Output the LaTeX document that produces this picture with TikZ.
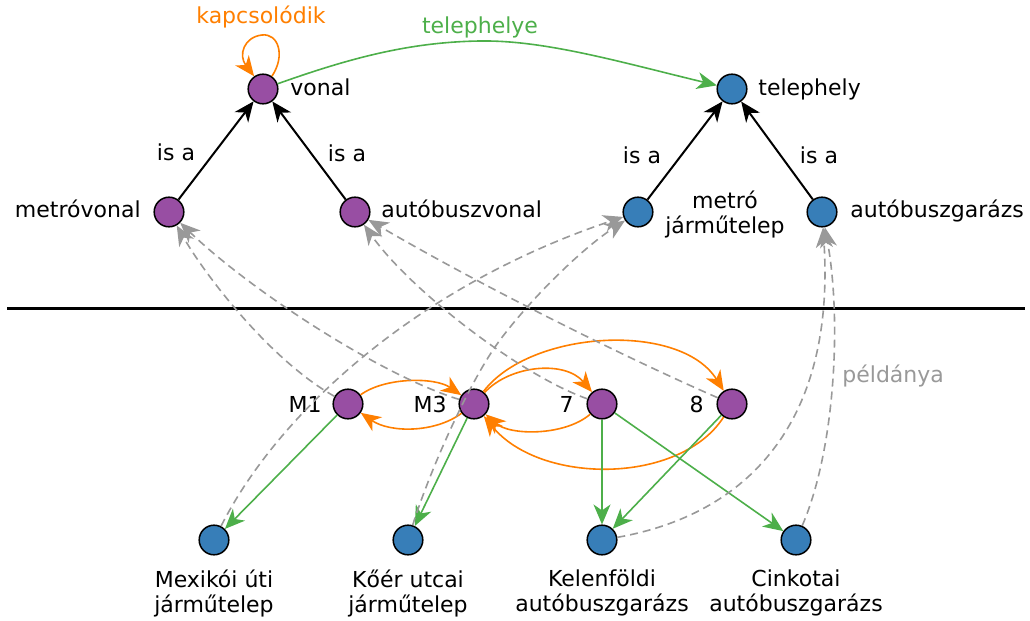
\documentclass[tikz,border=0pt]{standalone}
\usepackage{fontspec}
\setmainfont{DejaVu Sans}
\usetikzlibrary{arrows.meta}
\definecolor{cpurple}{HTML}{984EA3}
\definecolor{cblue}{HTML}{377EB8}
\definecolor{corange}{HTML}{FF7F00}
\definecolor{cgreen}{HTML}{4DAF4A}
\definecolor{cgray}{HTML}{999999}
\begin{document}
\begin{tikzpicture}[x=0.5pt,y=-0.5pt,
  font=\fontsize{11pt}{12.5pt}\selectfont,
  vert/.style={circle,draw=black,line width=0.75pt,minimum size=14.8pt,inner sep=0pt},
  cls/.style={vert,fill=cpurple},
  site/.style={vert,fill=cblue},
  txt/.style={inner sep=0pt},
  headed/.style={-{Stealth[length=10pt,width=8.5pt,inset=3pt]}},
  isa/.style={headed,line width=1pt,black},
  link/.style={headed,line width=0.8pt,corange},
  loc/.style={headed,line width=0.8pt,cgreen},
  inst/.style={headed,line width=0.8pt,cgray,dash pattern=on 4pt off 2.5pt},
]
\useasboundingbox (0,0) rectangle (1030,621);

% class level
\node[cls]  (vonal)   at (263,89)  {};
\node[site] (telep)   at (732,89)  {};
\node[cls]  (metrov)  at (169,212) {};
\node[cls]  (buszv)   at (355,212) {};
\node[site] (metrojt) at (638,212) {};
\node[site] (garazs)  at (822,212) {};

% instance level
\node[cls]  (M1)    at (348,404) {};
\node[cls]  (M3)    at (474,404) {};
\node[cls]  (n7)    at (602,404) {};
\node[cls]  (n8)    at (732,404) {};
\node[site] (mex)   at (214,540) {};
\node[site] (koer)  at (408,540) {};
\node[site] (kelen) at (602,540) {};
\node[site] (cink)  at (796,540) {};

% labels
\node[txt,anchor=base west] (lvonal) at (290,96) {vonal};
\node[txt,anchor=base west] (ltelep) at (758,96) {telephely};
\node[txt,anchor=base east] (lmetrov) at (141,217) {metróvonal};
\node[txt,anchor=base west] (lbuszv) at (381,217) {autóbuszvonal};
\node[txt,align=center] (lmetrojt) at (725,214) {metró\\járműtelep};
\node[txt,anchor=base west] (lgarazs) at (850,217) {autóbuszgarázs};
\node[txt,anchor=base east] (lM1) at (322,412) {M1};
\node[txt,anchor=base east] (lM3) at (447,412) {M3};
\node[txt,anchor=base east] (l7) at (574,412) {7};
\node[txt,anchor=base east] (l8) at (704,412) {8};
\node[txt,align=center] (lmex) at (214,593) {Mexikói úti\\járműtelep};
\node[txt,align=center] (lkoer) at (408,593) {Kőér utcai\\járműtelep};
\node[txt,align=center] (lkelen) at (602,593) {Kelenföldi\\autóbuszgarázs};
\node[txt,align=center] (lcink) at (796,593) {Cinkotai\\autóbuszgarázs};

% class / instance separator
\draw[line width=1.5pt] (7,308) -- (1025,308);

% is-a edges
\draw[isa] (metrov) -- (vonal);
\draw[isa] (buszv) -- (vonal);
\draw[isa] (metrojt) -- (telep);
\draw[isa] (garazs) -- (telep);
\node[txt,anchor=base] (isa1) at (176,160) {is a};
\node[txt,anchor=base] (isa2) at (347,162) {is a};
\node[txt,anchor=base] (isa3) at (642,163) {is a};
\node[txt,anchor=base] (isa4) at (819,163) {is a};

% relations between classes
\draw[link] (vonal.55) .. controls (286,55) and (278,33) .. (262,35)
  .. controls (244,37) and (238,55) .. (vonal.125);
\node[txt,anchor=base,text=corange] (lkapcs) at (261,24) {kapcsolódik};
\draw[loc] (vonal) .. controls (350,58) and (410,42) .. (480,41)
  .. controls (545,40) and (620,62) .. (telep);
\node[txt,anchor=base,text=cgreen] (ltelephelye) at (480,33) {telephelye};

% connections between lines
\draw[link] (M1) .. controls (385,377) and (435,377) .. (M3);
\draw[link] (M3) .. controls (435,433) and (390,433) .. (M1);
\draw[link] (M3) .. controls (510,365) and (565,360) .. (n7);
\draw[link] (n7) .. controls (565,436) and (510,436) .. (M3);
\draw[link] (M3) .. controls (530,330) and (680,321) .. (n8);
\draw[link] (n8) .. controls (680,485) and (540,485) .. (M3);

% depots of the lines
\draw[loc] (M1) -- (mex);
\draw[loc] (M3) -- (koer);
\draw[loc] (n7) -- (kelen);
\draw[loc] (n8) -- (kelen);
\draw[loc] (n7) -- (cink);

% instance-of edges
\draw[inst] (M1) .. controls (270,360) and (205,275) .. (metrov);
\draw[inst] (M3) .. controls (380,375) and (250,290) .. (metrov);
\draw[inst] (n7) .. controls (520,375) and (410,290) .. (buszv);
\draw[inst] (n8) .. controls (620,355) and (480,285) .. (buszv);
\draw[inst] (mex) .. controls (280,410) and (420,285) .. (metrojt);
\draw[inst] (koer) .. controls (430,470) and (470,380) .. (500,340)
  .. controls (530,300) and (580,250) .. (metrojt);
\draw[inst] (kelen) .. controls (745,515) and (836,425) .. (garazs);
\draw[inst] (cink) .. controls (835,450) and (842,320) .. (garazs);
\node[txt,anchor=base west,text=cgray] (lpeldanya) at (842,382) {példánya};
\end{tikzpicture}
\end{document}
